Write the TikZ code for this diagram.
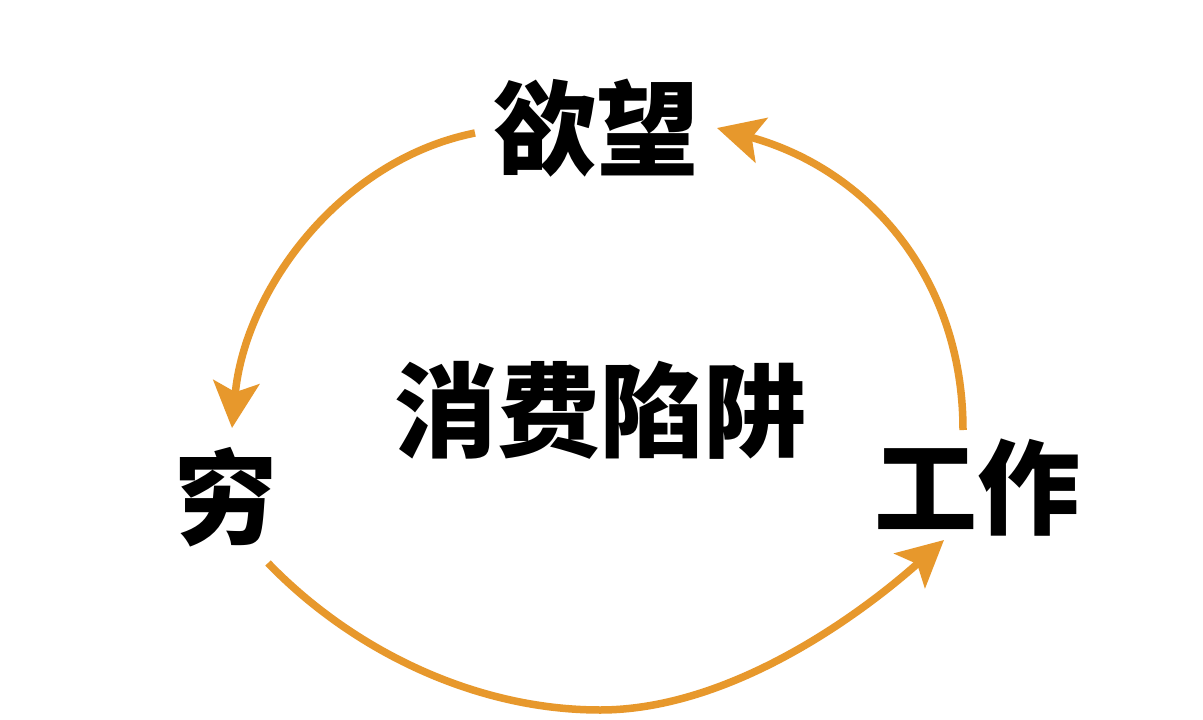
\documentclass[tikz,border=0pt]{standalone}
\usepackage{fontspec}
\newfontfamily\cjk{Noto Sans CJK SC}
\usetikzlibrary{arrows.meta}
\definecolor{arr}{RGB}{231,152,44}
\tikzset{
  lbl/.style={inner sep=0pt, font=\cjk\bfseries\fontsize{103}{103}\selectfont},
  cyc/.style={draw=arr, line width=7.5pt, line cap=butt,
    -{Stealth[length=46pt, width=46pt, inset=10pt, fill=arr]}}
}
\begin{document}
\begin{tikzpicture}[x=1pt,y=-1pt]
\useasboundingbox[fill=white] (0,0) rectangle (1203,720);
\node[lbl] (wang) at (596,128) {欲望};
\node[lbl] (xian) at (600,410) {消费陷阱};
\node[lbl] (qiong) at (226,497) {穷};
\node[lbl] (gz) at (977,488) {工作};
% connector end points
\coordinate (a1s) at (475,133);
\coordinate (a1e) at (232,428);
\coordinate (a2s) at (268,563);
\coordinate (a2m) at (600,710);
\coordinate (a2e) at (944,540);
\coordinate (a3s) at (963,430);
\coordinate (a3e) at (717,128);
\draw[cyc] (a1s) .. controls (340,160) and (245,290) .. (a1e);
\draw[cyc] (a2s) .. controls (352,650) and (475,710) .. (a2m)
                 .. controls (730,710) and (860,615) .. (a2e);
\draw[cyc] (a3s) .. controls (963,280) and (870,170) .. (a3e);
\end{tikzpicture}
\end{document}
